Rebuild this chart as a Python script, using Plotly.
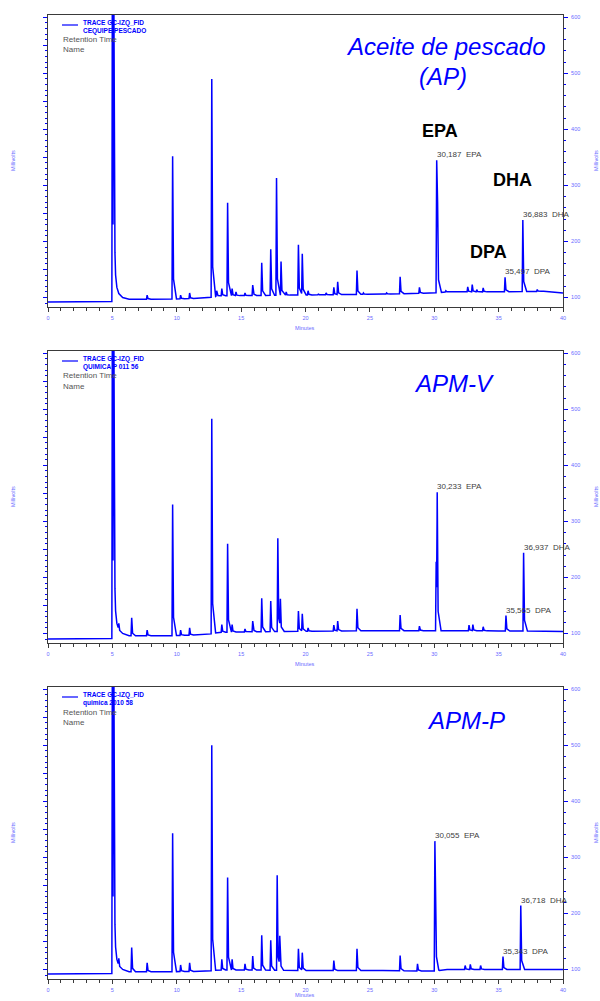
import numpy as np
import plotly.graph_objects as go

W, H = 600, 1001

# ---------------- data ----------------
x_ticks = [0, 5, 10, 15, 20, 25, 30, 35, 40]
y_ticks = [100, 200, 300, 400, 500, 600]

# panel 1 : Aceite de pescado (AP)
p1_base_t = [0, 4.95, 6.3, 9.5, 12.5, 13.2, 16, 20, 26, 29.9, 31, 35, 38.5, 40]
p1_base_v = [92, 92.5, 97, 97, 99, 103, 103.5, 104.5, 106, 108, 110, 110, 111, 108]
p1_sol_t = [4.96, 5.0, 5.05, 5.1, 5.16, 5.2, 5.25, 5.35, 5.5, 5.8, 6.3]
p1_sol_v = [93, 720, 230, 720, 320, 180, 140, 118, 107, 100, 97]
p1_pk_t = [7.7, 9.68, 10.3, 11.0, 12.72, 13.1, 13.5, 13.95, 14.3, 14.6, 15.3, 15.9,
           16.6, 17.3, 17.75, 18.1, 18.5, 19.45, 19.75, 20.2, 21.0, 21.6, 22.2, 22.5,
           24.0, 24.5, 26.3, 27.35, 28.85, 30.19, 30.26, 30.9, 32.6, 32.95, 33.3, 33.8,
           35.5, 36.88, 38.0]
p1_pk_h = [104, 352, 104, 108, 490, 112, 116, 269, 116, 110, 108, 122,
           162, 186, 313, 164, 110, 194, 178, 112, 106, 108, 118, 128,
           148, 108, 108, 137, 118, 345, 270, 112, 119, 123, 114, 117,
           136, 238, 114]

# panel 2 : APM-V
p2_base_t = [0, 4.95, 6.3, 9.5, 12.5, 13.2, 16, 20, 26, 29.9, 31, 35, 38.5, 40]
p2_base_v = [90, 90.5, 96, 96, 98, 102, 103, 104, 105, 105, 105, 104.5, 104, 103.5]
p2_sol_t = [4.96, 5.0, 5.05, 5.1, 5.16, 5.2, 5.25, 5.35, 5.5, 5.8, 6.3]
p2_sol_v = [91, 720, 230, 720, 320, 180, 140, 118, 107, 100, 96]
p2_pk_t = [5.5, 6.5, 7.7, 9.68, 10.3, 11.0, 12.72, 13.5, 13.95, 14.3, 15.3, 15.9,
           16.6, 17.3, 17.85, 18.05, 19.45, 19.75, 20.2, 22.2, 22.5, 24.0, 27.35,
           28.85, 30.15, 30.23, 32.7, 33.0, 33.8, 35.57, 36.94, 38.5]
p2_pk_h = [118, 128, 106, 330, 106, 110, 483, 116, 260, 116, 108, 122,
           163, 158, 270, 162, 140, 135, 110, 115, 122, 144, 133,
           113, 228, 352, 115, 116, 112, 132, 244, 104]

# panel 3 : APM-P
p3_base_t = [0, 4.95, 6.3, 9.5, 12.5, 13.2, 16, 20, 26, 29.9, 31, 35, 38.5, 40]
p3_base_v = [92, 92.5, 96, 96, 97, 99, 99, 98, 98, 97, 100, 100, 100, 100]
p3_sol_t = [4.96, 5.0, 5.05, 5.1, 5.16, 5.2, 5.25, 5.35, 5.5, 5.8, 6.3]
p3_sol_v = [93, 720, 230, 720, 320, 180, 140, 118, 107, 100, 96]
p3_pk_t = [5.5, 6.5, 7.7, 9.68, 10.3, 11.0, 12.72, 13.5, 13.95, 14.3, 15.3, 15.9,
           16.6, 17.3, 17.8, 18.0, 19.45, 19.75, 22.2, 24.0, 27.35, 28.7,
           30.05, 30.1, 32.4, 32.8, 33.6, 35.34, 36.72, 38.5]
p3_pk_h = [120, 139, 112, 343, 108, 112, 500, 118, 264, 118, 110, 124,
           161, 152, 268, 160, 137, 130, 116, 137, 125, 110,
           329, 149, 107, 109, 107, 123, 214, 101]

# labelled peaks
p1_lab_t = [30.187, 36.883, 35.497]
p1_lab_v = [345, 238, 136]
p1_lab_s = ["30,187", "36,883", "35,497"]
p2_lab_t = [30.233, 36.937, 35.565]
p2_lab_v = [352, 244, 132]
p2_lab_s = ["30,233", "36,937", "35,565"]
p3_lab_t = [30.055, 36.718, 35.343]
p3_lab_v = [329, 214, 123]
p3_lab_s = ["30,055", "36,718", "35,343"]
lab_names = ["EPA", "DHA", "DPA"]

samples = ["CEQUIPE PESCADO", "QUIMICA P 011 56", "quimica 2010 58"]

# ---------------- styles ----------------
WL, WR1, WR2, TAIL = 0.05, 0.07, 0.3, 0.14
BLUE = "#0000ff"
TICKBLUE = "#6a6aff"
AXC = "#3a3a3a"
FONT = "Liberation Sans, Arial, sans-serif"


def build(base_t, base_v, sol_t, sol_v, pk_t, pk_h):
    ts = set(base_t) | set(sol_t)
    for t in pk_t:
        ts.update([t - WL, t, t + WR1, t + WR2])
    ts = np.array(sorted(t for t in ts if 0 <= t <= 40))
    y = np.interp(ts, base_t, base_v)
    m = (ts >= sol_t[0]) & (ts <= sol_t[-1])
    y[m] = np.maximum(y[m], np.interp(ts[m], sol_t, sol_v))
    for t0, h in zip(pk_t, pk_h):
        b = float(np.interp(t0, base_t, base_v))
        sx = [t0 - WL, t0, t0 + WR1, t0 + WR2]
        sy = [b, h, b + TAIL * (h - b), b]
        mm = (ts >= sx[0]) & (ts <= sx[-1])
        y[mm] = np.maximum(y[mm], np.interp(ts[mm], sx, sy))
    return ts, y


panels = [
    (p1_base_t, p1_base_v, p1_sol_t, p1_sol_v, p1_pk_t, p1_pk_h, p1_lab_t, p1_lab_v, p1_lab_s),
    (p2_base_t, p2_base_v, p2_sol_t, p2_sol_v, p2_pk_t, p2_pk_h, p2_lab_t, p2_lab_v, p2_lab_s),
    (p3_base_t, p3_base_v, p3_sol_t, p3_sol_v, p3_pk_t, p3_pk_h, p3_lab_t, p3_lab_v, p3_lab_s),
]

# pixel layout of the three plot boxes (top, bottom)
boxes = [(15, 307), (351, 643), (687, 979)]
XL, XR = 48, 563
YR = [83, 604]


def px(x):
    return x / W


def py(y):
    return 1 - y / H


def note(text, x, y, size, color, xanchor="center", **kw):
    d = dict(text=text, x=px(x), y=py(y), xref="paper", yref="paper", showarrow=False,
             xanchor=xanchor, yanchor="middle", font=dict(size=size, color=color))
    d.update(kw)
    return d


fig = go.Figure()
layout = dict(width=W, height=H, margin=dict(l=0, r=0, t=0, b=0, pad=0, autoexpand=False),
              paper_bgcolor="white", plot_bgcolor="white", showlegend=False,
              font=dict(family=FONT))
annotations = []
shapes = []

for i, (bt, bv, st, sv, pt, ph, lt, lv, ls) in enumerate(panels):
    n = i + 1
    xa = "x" if n == 1 else f"x{n}"
    ya = "y" if n == 1 else f"y{n}"
    yr = f"y{n + 3}"
    ts, ys = build(bt, bv, st, sv, pt, ph)
    fig.add_trace(go.Scatter(x=ts, y=ys, mode="lines", xaxis=xa, yaxis=ya,
                             line=dict(color=BLUE, width=1.5), hoverinfo="skip"))
    # invisible companion so the right-hand axis is drawn
    fig.add_trace(go.Scatter(x=lt, y=lv, mode="markers", xaxis=xa, yaxis=yr,
                             marker=dict(opacity=0), hoverinfo="skip"))
    top, bot = boxes[i]
    dom_y = [py(bot), py(top)]
    layout[f"xaxis{n if n > 1 else ''}"] = dict(
        domain=[px(XL), px(XR)], range=[0, 40], anchor=ya, tickvals=x_ticks,
        ticks="outside", ticklen=4, tickcolor=AXC, tickwidth=1,
        showline=True, linecolor=AXC, linewidth=1, mirror=True,
        tickfont=dict(size=5.5, color=TICKBLUE), ticklabelstandoff=1,
        minor=dict(dtick=1, ticks="outside", ticklen=2.5, tickcolor=AXC),
        showgrid=False, zeroline=False, fixedrange=True, automargin=False)
    layout[f"yaxis{n if n > 1 else ''}"] = dict(
        domain=dom_y, range=YR, anchor=xa, tick0=0, dtick=50,
        ticks="outside", ticklen=4, tickcolor=BLUE, showticklabels=False,
        minor=dict(dtick=10, ticks="outside", ticklen=2, tickcolor=BLUE),
        showline=True, linecolor=AXC, linewidth=1, mirror=True,
        showgrid=False, zeroline=False, fixedrange=True, automargin=False)
    layout[f"yaxis{n + 3}"] = dict(
        overlaying=ya, side="right", anchor=xa, range=YR, tickvals=y_ticks,
        ticks="outside", ticklen=4, tickcolor=BLUE,
        minor=dict(dtick=20, ticks="outside", ticklen=2, tickcolor=BLUE),
        tickfont=dict(size=5.5, color=TICKBLUE), ticklabelstandoff=2, showline=False,
        showgrid=False, zeroline=False, fixedrange=True, automargin=False)

    mid = (top + bot) / 2
    for xx in (13, 596):
        annotations.append(note("Millivolts", xx, mid, 5.5, TICKBLUE, textangle=-90))
    mins_y = min(bot + 21, 995)
    annotations.append(note("Minutes", 305, mins_y, 5.5, TICKBLUE))
    # legend block
    shapes.append(dict(type="line", xref="paper", yref="paper", x0=px(62), x1=px(78),
                       y0=py(top + 10), y1=py(top + 10), line=dict(color=BLUE, width=1.2)))
    annotations.append(note("<b>TRACE GC-IZQ_FID</b>", 81, top + 8, 6.5, BLUE, xanchor="left"))
    annotations.append(note(f"<b>{samples[i]}</b>", 81, top + 16, 6.5, BLUE, xanchor="left"))
    annotations.append(note("Retention Time", 61, top + 25, 8, "#555555", xanchor="left"))
    annotations.append(note("Name", 61, top + 35, 8, "#555555", xanchor="left"))
    # peak labels
    for t, v, s, nm in zip(lt, lv, ls, lab_names):
        annotations.append(dict(text=f"{s}\u00a0\u00a0{nm}", x=t, y=v, xref=xa, yref=ya,
                                xanchor="left", yanchor="bottom", showarrow=False,
                                xshift=-2, yshift=-1,
                                font=dict(size=8, color="#404040")))

# big titles
annotations.append(note("<i>Aceite de pescado</i>", 445, 47, 24, BLUE))
annotations.append(note("<i>(AP)</i>", 443, 77, 24, BLUE))
annotations.append(note("<i>APM-V</i>", 454, 383, 24, BLUE))
annotations.append(note("<i>APM-P</i>", 466, 720, 24, BLUE))
for txt, xx, yy in [("EPA", 440, 131), ("DHA", 512, 180), ("DPA", 488, 252)]:
    annotations.append(note(f"<b>{txt}</b>", xx, yy, 18, "black"))

layout["annotations"] = annotations
layout["shapes"] = shapes
fig.update_layout(**layout)
# the page's default 8px body margin would shift the figure; remove it
fig.write_html("out.html", config={"displayModeBar": False},
               post_script="document.body.style.margin='0px';document.body.style.overflow='hidden';")
